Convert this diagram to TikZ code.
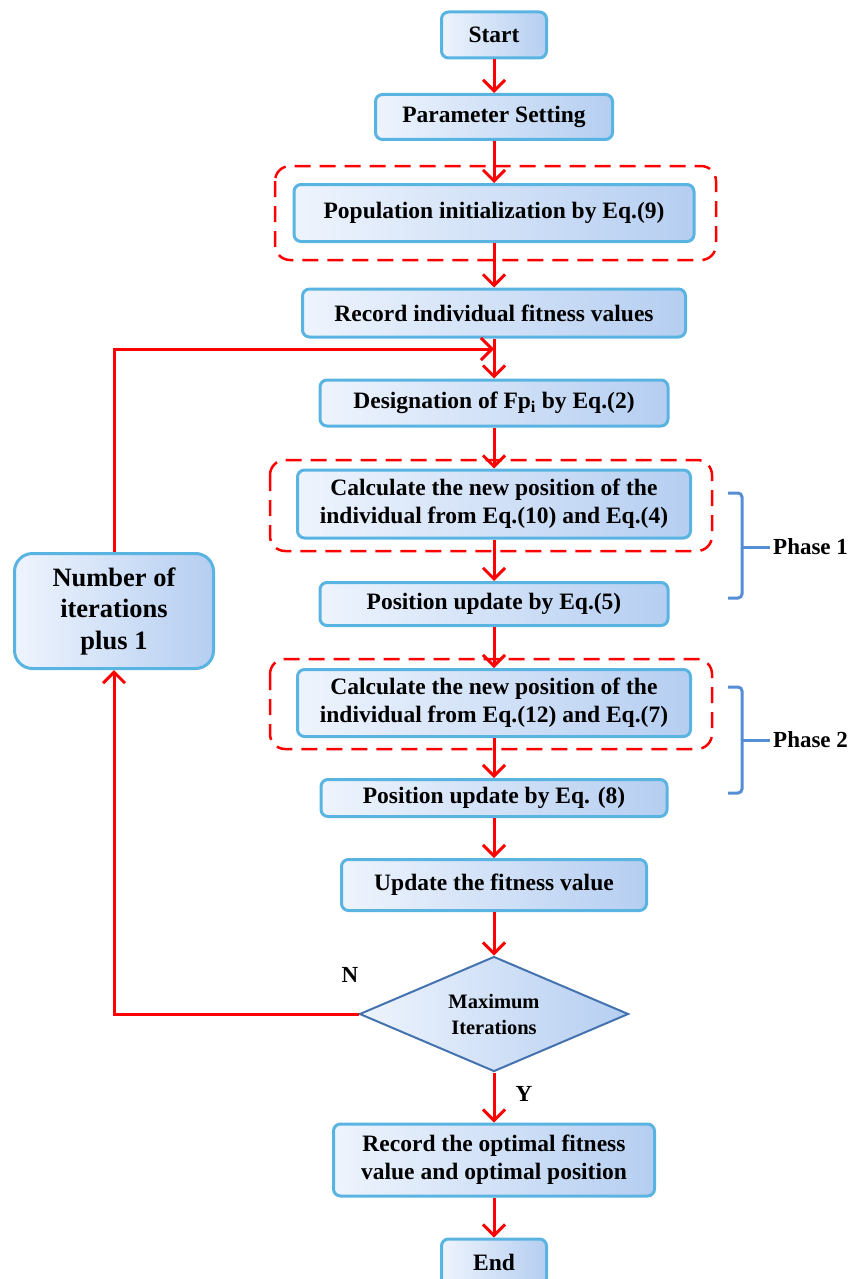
\documentclass[tikz,border=0pt]{standalone}
\usepackage{fontspec}
\setmainfont{Liberation Serif}
\usetikzlibrary{arrows.meta,shapes.geometric}
\definecolor{boxlight}{RGB}{238,244,253}
\definecolor{boxdark}{RGB}{181,206,241}
\definecolor{boxborder}{RGB}{90,180,226}
\definecolor{diaborder}{RGB}{68,114,175}
\definecolor{braceblue}{RGB}{85,142,213}
\tikzset{
  procbox/.style={draw=boxborder, line width=3pt, rounded corners=7pt,
    left color=boxlight, right color=boxdark, align=center, inner sep=2pt,
    font=\fontsize{23.5}{28}\selectfont\bfseries},
  decbox/.style={draw=diaborder, line width=2pt, shape=diamond, aspect=2.34,
    left color=boxlight, right color=boxdark, align=center, inner sep=0pt,
    font=\fontsize{20.5}{26}\selectfont\bfseries},
  arr/.style={draw=red, line width=3pt, -{Straight Barb[length=11pt,width=22pt]}},
  dashbox/.style={draw=red, line width=2.5pt, rounded corners=15pt, dash pattern=on 16pt off 9pt},
  bracket/.style={draw=braceblue, line width=3pt, rounded corners=4pt},
  lbl/.style={font=\fontsize{23}{26}\selectfont\bfseries, inner sep=0pt}
}
\begin{document}
\begin{tikzpicture}[x=1pt,y=-1pt]
\useasboundingbox (0,0) rectangle (853,1279);

\draw[dashbox] (275,166) rectangle (716,260);
\draw[dashbox] (270,460) rectangle (712,551);
\draw[dashbox] (270,659) rectangle (712,749);

\node[procbox, minimum width=105, minimum height=46] (start) at (494,35) {Start};
\node[procbox, minimum width=237, minimum height=45] (param) at (494,117) {Parameter Setting};
\node[procbox, minimum width=400, minimum height=57] (pop) at (494,213) {Population initialization by Eq.(9)};
\node[procbox, minimum width=383, minimum height=48] (rec) at (494,313) {Record individual fitness values};
\node[procbox, minimum width=348, minimum height=46] (des) at (494,403) {Designation of Fp\textsubscript{i} by Eq.(2)};
\node[procbox, minimum width=393, minimum height=68] (calc1) at (494,504) {Calculate the new position of the\\individual from Eq.(10) and Eq.(4)};
\node[procbox, minimum width=348, minimum height=43] (pu1) at (494,604) {Position update by Eq.(5)};
\node[procbox, minimum width=393, minimum height=67] (calc2) at (494,703) {Calculate the new position of the\\individual from Eq.(12) and Eq.(7)};
\node[procbox, minimum width=346, minimum height=37, inner ysep=0pt] (pu2) at (494,798) {Position update by Eq. (8)};
\node[procbox, minimum width=305, minimum height=51] (upd) at (494,885) {Update the fitness value};
\node[decbox, minimum width=269, minimum height=115] (dia) at (494,1014) {Maximum\\Iterations};
\node[procbox, minimum width=321, minimum height=72] (opt) at (494,1160) {Record the optimal fitness\\value and optimal position};
\node[procbox, minimum width=105, minimum height=46] (end) at (494,1262) {End};
\node[procbox, rounded corners=18pt, minimum width=199, minimum height=115,
  font=\fontsize{26.5}{31.5}\selectfont\bfseries] (iter) at (114,611) {Number of\\iterations\\plus 1};

\coordinate (fb) at (494,349);

\draw[arr] (start) -- (param);
\draw[arr] (param) -- (pop);
\draw[arr] (pop) -- (rec);
\draw[arr] (rec) -- (des);
\draw[arr] (des) -- (calc1);
\draw[arr] (calc1) -- (pu1);
\draw[arr] (pu1) -- (calc2);
\draw[arr] (calc2) -- (pu2);
\draw[arr] (pu2) -- (upd);
\draw[arr] (upd) -- (dia);
\draw[arr] (dia) -- (opt);
\draw[arr] (opt) -- (end);
\draw[arr] (dia.west) -| (iter.south);
\draw[arr] (iter.north) |- (fb);

\node[lbl] (nlab) at (350,975) {N};
\node[lbl] (ylab) at (524,1094) {Y};

\draw[bracket] (728,493) -- (742,493) -- (742,598) -- (728,598);
\draw[bracket] (742,547) -- (770,547);
\node[lbl, anchor=west] (ph1) at (773,547) {Phase 1};
\draw[bracket] (728,687) -- (742,687) -- (742,793) -- (728,793);
\draw[bracket] (742,740) -- (770,740);
\node[lbl, anchor=west] (ph2) at (773,740) {Phase 2};
\end{tikzpicture}
\end{document}
